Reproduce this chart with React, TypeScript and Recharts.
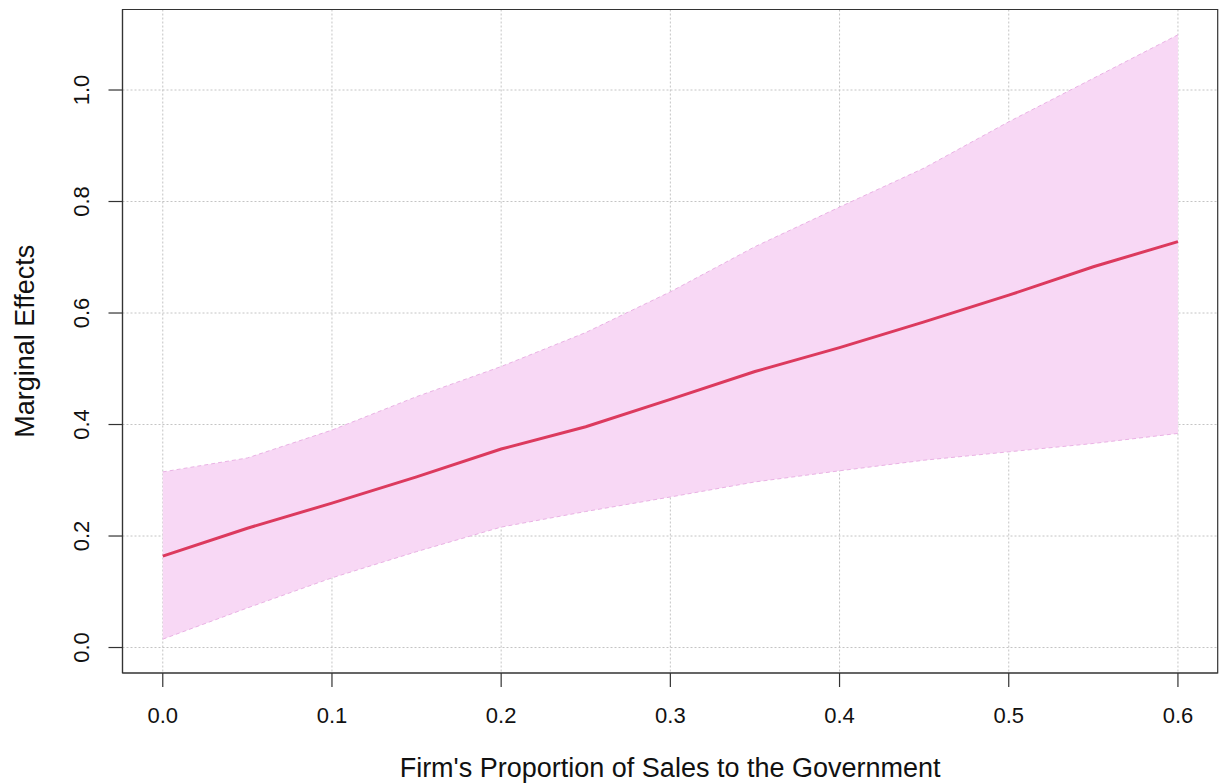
import React from "react";
import { ComposedChart, Area, Line, XAxis, YAxis, CartesianGrid, ReferenceArea } from "recharts";

const proportion = [0, 0.05, 0.1, 0.15, 0.2, 0.25, 0.3, 0.35, 0.4, 0.45, 0.5, 0.55, 0.6];
const effect = [0.164, 0.214, 0.259, 0.306, 0.356, 0.396, 0.445, 0.495, 0.538, 0.584, 0.632, 0.683, 0.728];
const upperBound = [0.315, 0.340, 0.390, 0.450, 0.504, 0.565, 0.638, 0.719, 0.790, 0.860, 0.943, 1.021, 1.099];
const lowerBound = [0.015, 0.071, 0.125, 0.172, 0.216, 0.244, 0.270, 0.297, 0.317, 0.336, 0.351, 0.366, 0.384];

const xTicks = [0, 0.1, 0.2, 0.3, 0.4, 0.5, 0.6];
const yTicks = [0, 0.2, 0.4, 0.6, 0.8, 1.0];

const xTitle = "Firm's Proportion of Sales to the Government";
const yTitle = "Marginal Effects";

const data = proportion.map((p, i) => ({
  p,
  effect: effect[i],
  upper: upperBound[i],
  lower: lowerBound[i],
  band: [lowerBound[i], upperBound[i]],
}));

const FONT = "'Liberation Sans', Arial, Helvetica, sans-serif";
const TEXT = "#111";
const FRAME = "#333";

const XTick = (props: any) => {
  const { x, y, payload } = props;
  return (
    <text x={x} y={y + 34} textAnchor="middle" fontFamily={FONT} fontSize={22} fill={TEXT}>
      {Number(payload.value).toFixed(1)}
    </text>
  );
};

const YTick = (props: any) => {
  const { x, y, payload } = props;
  const bx = x - 17.5;
  return (
    <text
      x={bx}
      y={y}
      textAnchor="middle"
      transform={`rotate(-90, ${bx}, ${y})`}
      fontFamily={FONT}
      fontSize={22}
      fill={TEXT}
    >
      {Number(payload.value).toFixed(1)}
    </text>
  );
};

const XTitle = (props: any) => {
  const vb = props.viewBox || { x: 122.5, y: 673, width: 1095, height: 60 };
  return (
    <text x={vb.x + vb.width / 2} y={vb.y + 104} textAnchor="middle" fontFamily={FONT} fontSize={27} fill={TEXT}>
      {xTitle}
    </text>
  );
};

const YTitle = (props: any) => {
  const vb = props.viewBox || { x: 62.5, y: 9.5, width: 60, height: 663.5 };
  const cx = 34;
  const cy = vb.y + vb.height / 2;
  return (
    <text
      x={cx}
      y={cy}
      textAnchor="middle"
      transform={`rotate(-90, ${cx}, ${cy})`}
      fontFamily={FONT}
      fontSize={27}
      fill={TEXT}
    >
      {yTitle}
    </text>
  );
};

const xDomain: [number, number] = [-0.0238, 0.6235];
const yDomain: [number, number] = [-0.0457, 1.1444];

export default function App() {
  return (
    <div style={{ position: "absolute", left: 0, top: 0, width: 1221, height: 784, background: "#fff" }}>
      <ComposedChart
        width={1221}
        height={784}
        data={data}
        margin={{ top: 9.5, right: 3.3, bottom: 51, left: 62.5 }}
      >
        <CartesianGrid
          stroke="#c4c4c4"
          strokeDasharray="2 2"
          horizontalValues={yTicks}
          verticalValues={xTicks}
        />
        <XAxis
          dataKey="p"
          type="number"
          domain={xDomain}
          allowDataOverflow
          ticks={xTicks}
          tickSize={14}
          tickLine={{ stroke: FRAME, strokeWidth: 1.2 }}
          axisLine={{ stroke: FRAME, strokeWidth: 1.2 }}
          tick={<XTick />}
          height={60}
          interval={0}
          label={<XTitle />}
        />
        <YAxis
          type="number"
          domain={yDomain}
          allowDataOverflow
          ticks={yTicks}
          tickSize={14}
          tickLine={{ stroke: FRAME, strokeWidth: 1.2 }}
          axisLine={{ stroke: FRAME, strokeWidth: 1.2 }}
          tick={<YTick />}
          width={60}
          interval={0}
          label={<YTitle />}
        />
        <Area
          dataKey="band"
          type="linear"
          fill="#f8d8f5"
          fillOpacity={1}
          stroke="none"
          isAnimationActive={false}
          activeDot={false}
        />
        <Line
          dataKey="upper"
          type="linear"
          stroke="#e9b2e4"
          strokeWidth={1}
          strokeDasharray="4 3"
          dot={false}
          activeDot={false}
          isAnimationActive={false}
        />
        <Line
          dataKey="lower"
          type="linear"
          stroke="#e9b2e4"
          strokeWidth={1}
          strokeDasharray="4 3"
          dot={false}
          activeDot={false}
          isAnimationActive={false}
        />
        <Line
          dataKey="effect"
          type="linear"
          stroke="#dc3a5e"
          strokeWidth={3}
          dot={false}
          activeDot={false}
          isAnimationActive={false}
        />
        <ReferenceArea
          x1={xDomain[0]}
          x2={xDomain[1]}
          y1={yDomain[0]}
          y2={yDomain[1]}
          fill="none"
          fillOpacity={0}
          stroke={FRAME}
          strokeWidth={1.2}
          ifOverflow="visible"
        />
      </ComposedChart>
    </div>
  );
}
